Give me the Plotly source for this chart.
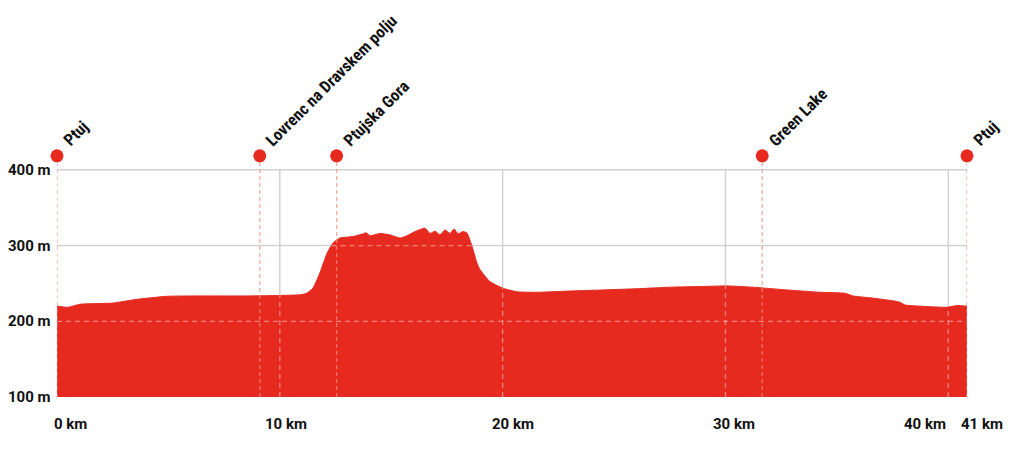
import numpy as np
import plotly.graph_objects as go

# ---- data ----
dist_km = [0, 0.49, 1.03, 1.93, 2.51, 3.59, 4.94, 6.42, 8.66, 10.91, 11.20, 11.49, 11.80, 12.12,
           12.39, 12.70, 13.29, 13.73, 13.87, 14.05, 14.50, 14.95, 15.40, 15.71, 16.07, 16.52,
           16.74, 16.97, 17.19, 17.41, 17.64, 17.82, 18.00, 18.22, 18.40, 18.63, 18.85, 18.99,
           19.43, 20.02, 20.65, 21.54, 23.03, 24.51, 26.03, 27.51, 29.00, 30.07, 31.24, 32.76,
           34.25, 35.37, 35.73, 36.49, 37.52, 37.84, 38.06, 38.73, 39.95, 40.39, 40.84]
elev_m = [220, 218.5, 222.5, 223.5, 224, 229, 233, 233.5, 233.5, 235, 237, 244, 264, 290,
          303.5, 310, 312, 315.5, 317, 313, 316, 314, 310, 313, 318.5, 323,
          316, 319, 314, 320.7, 316, 322, 315.5, 318.5, 316.5, 298.7, 276.7, 268,
          252.4, 243.6, 239, 238.3, 240, 241.4, 243, 245, 246, 246.7, 245, 241.4,
          238.3, 237, 233.5, 231, 227, 225, 221.5, 220, 218.5, 220.7, 220]

place_names = ["Ptuj", "Lovrenc na Dravskem polju", "Ptujska Gora", "Green Lake", "Ptuj"]
place_km = [0, 9.1, 12.55, 31.65, 40.84]

y_grid = [200, 300, 400]
y_ticks = [100, 200, 300, 400]
y_tick_labels = ["100 m", "200 m", "300 m", "400 m"]
x_grid = [10, 20, 30, 40]
x_tick_vals = [0, 10, 20, 30, 40, 40.84]
x_tick_labels = ["0 km", "10 km", "20 km", "30 km", "40 km", "41 km"]

RED = "#e62a20"
GRID = "#d2d2d2"
OVERLAY = "rgba(255,255,255,0.42)"
MARKER_ELEV = 418.5
X_MAX = 40.84
Y_MIN, Y_TOP, Y_MAX = 100, 400, 450

d = np.array(dist_km, dtype=float)
e = np.array(elev_m, dtype=float)


def intervals_above(level):
    """x-intervals where the profile lies above a given elevation."""
    out, start = [], (d[0] if e[0] > level else None)
    for i in range(1, len(d)):
        a, b = e[i - 1] - level, e[i] - level
        if a <= 0 < b or a > 0 >= b:
            xc = d[i - 1] + (d[i] - d[i - 1]) * (-a) / (b - a)
            if start is None:
                start = xc
            else:
                out.append((start, xc))
                start = None
    if start is not None:
        out.append((start, d[-1]))
    return out


fig = go.Figure()

# elevation area
fig.add_trace(go.Scatter(x=dist_km, y=elev_m, mode="lines", fill="tozeroy",
                         fillcolor=RED, line=dict(color=RED, width=1, shape="spline", smoothing=0.5),
                         hoverinfo="skip", showlegend=False))

# place marker dashed lines
for km in place_km:
    fig.add_trace(go.Scatter(x=[km, km], y=[Y_MIN, MARKER_ELEV], mode="lines",
                             line=dict(color="rgba(240,140,130,0.75)", width=1.3, dash="4px,3px"),
                             cliponaxis=False, hoverinfo="skip", showlegend=False))

# place markers
fig.add_trace(go.Scatter(x=place_km, y=[MARKER_ELEV] * len(place_km), mode="markers",
                         marker=dict(color=RED, size=13, line=dict(width=0)),
                         cliponaxis=False, hoverinfo="skip", showlegend=False))

shapes = []
# solid grey grid lines under the area, light dashed overlay inside the area
for yv in y_grid:
    shapes.append(dict(type="line", xref="x", yref="y", x0=0, x1=X_MAX, y0=yv, y1=yv,
                       line=dict(color=GRID, width=1.5), layer="below"))
    for x0, x1 in intervals_above(yv):
        shapes.append(dict(type="line", xref="x", yref="y", x0=x0, x1=x1, y0=yv, y1=yv,
                           line=dict(color=OVERLAY, width=1.3, dash="5px,4px"), layer="above"))
for xv in x_grid:
    shapes.append(dict(type="line", xref="x", yref="y", x0=xv, x1=xv, y0=Y_MIN, y1=Y_TOP,
                       line=dict(color=GRID, width=1.5), layer="below"))
    shapes.append(dict(type="line", xref="x", yref="y", x0=xv, x1=xv, y0=Y_MIN,
                       y1=float(np.interp(xv, d, e)),
                       line=dict(color=OVERLAY, width=1.3, dash="5px,4px"), layer="above"))

annotations = []
LABEL_FONT = dict(family="Roboto, Arial, sans-serif", size=15, color="#111111", weight="bold")
for yv, lab in zip(y_ticks, y_tick_labels):
    annotations.append(dict(x=0, y=yv, xref="paper", yref="y", text=lab, showarrow=False,
                            xanchor="right", yanchor="middle", xshift=-4, font=LABEL_FONT))

x_anchor = ["left", "center", "center", "center", "right", "left"]
x_shift = [-5, 6, 10, 9, 0, -8]
for xv, lab, anc, sh in zip(x_tick_vals, x_tick_labels, x_anchor, x_shift):
    annotations.append(dict(x=xv, y=0, xref="x", yref="paper", text=lab, showarrow=False,
                            xanchor=anc, yanchor="middle", xshift=sh, yshift=-27, font=LABEL_FONT))

NAME_FONT = dict(family="Liberation Sans Narrow, Roboto Condensed, Roboto, sans-serif",
                 size=16.5, color="#111111", weight="bold")
for km, name in zip(place_km, place_names):
    annotations.append(dict(x=km, y=MARKER_ELEV, xref="x", yref="y", text=name, showarrow=False,
                            textangle=-45, xanchor="left", yanchor="bottom",
                            xshift=0, yshift=3, font=NAME_FONT))

fig.update_layout(
    width=1024, height=452,
    margin=dict(l=57, r=57, t=132, b=55),
    paper_bgcolor="white", plot_bgcolor="white",
    xaxis=dict(range=[0, X_MAX], showgrid=False, zeroline=False, showticklabels=False,
               ticks="", fixedrange=True),
    yaxis=dict(range=[Y_MIN, Y_MAX], showgrid=False, zeroline=False, showticklabels=False,
               ticks="", fixedrange=True),
    shapes=shapes, annotations=annotations, showlegend=False,
)

fig.write_html("out.html")
